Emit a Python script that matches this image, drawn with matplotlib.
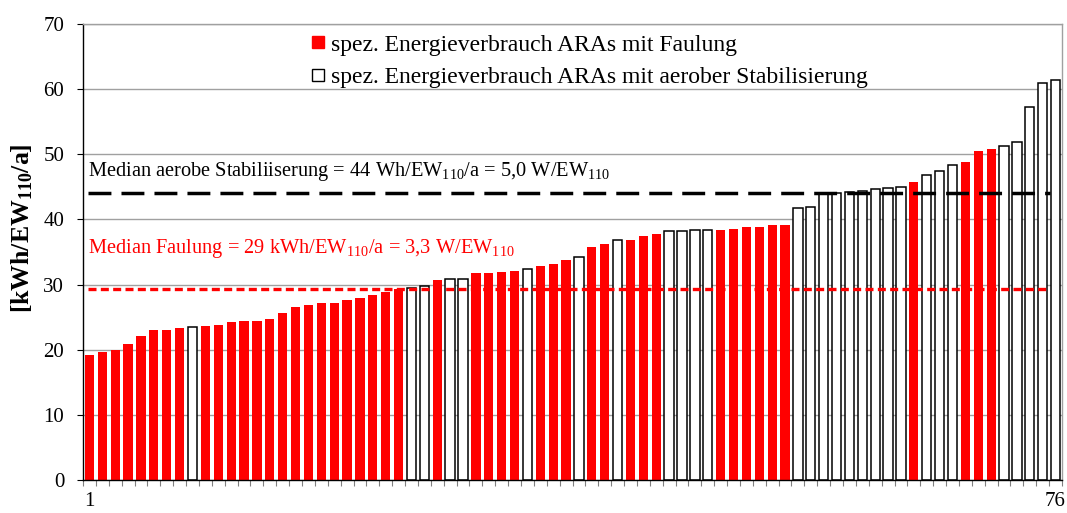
import numpy as np
import matplotlib
matplotlib.use('Agg')
import matplotlib.pyplot as plt
from matplotlib.lines import Line2D

plt.rcParams['font.family'] = ['Liberation Serif', 'DejaVu Serif']
plt.rcParams['mathtext.fontset'] = 'custom'
plt.rcParams['mathtext.rm'] = 'Liberation Serif'
plt.rcParams['mathtext.bf'] = 'Liberation Serif:bold'
plt.rcParams['mathtext.default'] = 'regular'

# spez. Energieverbrauch je ARA, aufsteigend sortiert [kWh/EW110/a]
values = [19.2, 19.6, 19.9, 20.9, 22.1, 23.1, 23.1, 23.4, 23.5, 23.7,
          23.8, 24.2, 24.4, 24.4, 24.7, 25.6, 26.5, 26.8, 27.1, 27.2,
          27.6, 28.0, 28.4, 28.8, 29.3, 29.5, 29.8, 30.7, 30.8, 30.9,
          31.7, 31.7, 31.9, 32.1, 32.4, 32.8, 33.1, 33.8, 34.3, 35.8,
          36.3, 36.8, 36.9, 37.4, 37.8, 38.3, 38.3, 38.4, 38.4, 38.4,
          38.5, 38.9, 38.9, 39.1, 39.2, 41.8, 41.9, 44.1, 44.1, 44.2,
          44.4, 44.6, 44.9, 45.0, 45.7, 46.8, 47.5, 48.3, 48.8, 50.5,
          50.8, 51.2, 51.9, 57.3, 61.0, 61.4]
# F = Faulung, A = aerobe Stabilisierung
kinds = list('FFFFFFFFAF'
             'FFFFFFFFFF'
             'FFFFFAAFAA'
             'FFFFAFFFAF'
             'FAFFFAAAAF'
             'FFFFFAAAAA'
             'AAAAFAAAFF'
             'FAAAAA')

label_f = 'spez. Energieverbrauch ARAs mit Faulung'
label_a = 'spez. Energieverbrauch ARAs mit aerober Stabilisierung'
text_a = 'Median aerobe Stabiliiserung = 44 Wh/EW$_{110}$/a = 5,0 W/EW$_{110}$'
text_f = 'Median Faulung = 29 kWh/EW$_{110}$/a = 3,3 W/EW$_{110}$'

values = np.array(values)
kinds = np.array(kinds)
x = np.arange(1, len(values) + 1)
is_f = kinds == 'F'

W, H = 1067, 513
fig = plt.figure(figsize=(W / 100, H / 100), dpi=100)
ax = fig.add_axes([83 / W, 1 - 480 / H, (1062 - 83) / W, (480 - 24) / H])

ax.bar(x[is_f], values[is_f], width=0.72, color='#ff0000', zorder=2)
ax.bar(x[~is_f], values[~is_f], width=0.72, color='white', edgecolor='black',
       linewidth=1.1, zorder=2)

med_a = np.median(values[~is_f])
med_f = np.median(values[is_f])
ax.plot([0.85, 75.6], [med_a, med_a], color='black', lw=2.5,
        dashes=(6.6, 2.9), zorder=3)
ax.plot([0.85, 75.6], [med_f, med_f], color='#ff0000', lw=2.4,
        dashes=(2.4, 1.3), zorder=3)

ax.text(0.85, 47.3, text_a, fontsize=14.7, color='black', va='center', ha='left')
ax.text(0.85, 35.6, text_f, fontsize=14.7, color='#ff0000', va='center', ha='left')

ax.set_xlim(0.5, 76.5)
ax.set_ylim(0, 70)
ax.set_yticks(np.arange(0, 71, 10))
ax.yaxis.grid(True, color='#a0a0a0', lw=1.0, zorder=0)
ax.set_axisbelow(True)
ax.set_xticks([1, 76])
ax.set_xticklabels(['1', '76'])
ax.set_xticks(np.arange(0.5, 77, 1), minor=True)
ax.tick_params(axis='x', which='major', length=0, pad=9, labelsize=15)
ax.tick_params(axis='x', which='minor', length=4.3, width=0.8, color='#808080')
ax.tick_params(axis='y', length=4.5, width=0.8, pad=9, labelsize=15)

for s in ['top', 'right']:
    ax.spines[s].set_color('#a0a0a0')
    ax.spines[s].set_linewidth(1.0)
for s in ['left', 'bottom']:
    ax.spines[s].set_color('black')
    ax.spines[s].set_linewidth(1.0)

ax.set_ylabel(r'[kWh/EW$_{\mathbf{110}}$/a]', fontsize=18.5, fontweight='bold')
ax.yaxis.set_label_coords((35 - 83) / (1062 - 83), (480 - 228) / (480 - 24))

handles = [
    Line2D([], [], marker='s', ls='none', markersize=8, markerfacecolor='#ff0000',
           markeredgecolor='#ff0000'),
    Line2D([], [], marker='s', ls='none', markersize=8, markerfacecolor='white',
           markeredgecolor='black', markeredgewidth=1.0),
]
fig.legend(handles, [label_f, label_a], loc='upper left',
           bbox_to_anchor=(311 / W, 1 - 34 / H), frameon=False, fontsize=17,
           handlelength=0.6, handletextpad=0.25, borderpad=0, borderaxespad=0,
           labelspacing=0.48)

fig.savefig('out.png', dpi=100)
